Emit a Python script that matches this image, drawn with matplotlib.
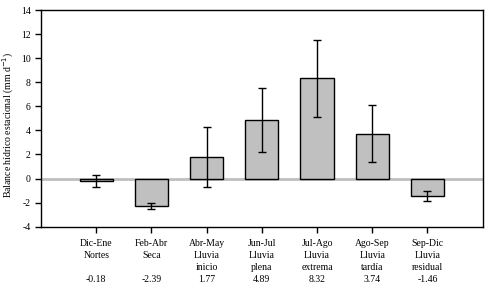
import matplotlib
matplotlib.use("Agg")
import matplotlib.pyplot as plt

# Seasonal water balance data
seasons = ["Dic-Ene\nNortes", "Feb-Abr\nSeca", "Abr-May\nLluvia\ninicio",
           "Jun-Jul\nLluvia\nplena", "Jul-Ago\nLluvia\nextrema",
           "Ago-Sep\nLluvia\ntardía", "Sep-Dic\nLluvia\nresidual"]
balance = [-0.18, -2.29, 1.78, 4.89, 8.32, 3.74, -1.46]
errors = [0.5, 0.25, 2.5, 2.67, 3.2, 2.37, 0.42]
value_labels = ["-0.18", "-2.39", "1.77", "4.89", "8.32", "3.74", "-1.46"]

plt.rcParams["font.family"] = ["Liberation Serif", "DejaVu Serif"]
plt.rcParams["axes.unicode_minus"] = False

fig = plt.figure(figsize=(5.04, 2.97), dpi=100)
ax = fig.add_axes([41 / 504, 1 - 226.7 / 297, 441.7 / 504, 216.7 / 297])

x = list(range(1, len(seasons) + 1))
ax.axhline(0, color="#bfbfbf", linewidth=2, zorder=1)
ax.bar(x, balance, width=0.6, color="#c0c0c0", edgecolor="black",
       linewidth=1, zorder=2)
ax.errorbar(x, balance, yerr=errors, fmt="none", ecolor="black",
            elinewidth=1, capsize=3, capthick=1, zorder=3)

ax.set_xlim(0, 8)
ax.set_ylim(-4, 14)
ax.set_yticks(range(-4, 15, 2))
ax.set_xticks(x)
ax.set_xticklabels(seasons, fontsize=7, linespacing=1.45, va="top")
ax.tick_params(axis="x", direction="out", length=4, pad=5, width=1)
ax.tick_params(axis="y", direction="out", length=4, labelsize=7, width=1)
for s in ax.spines.values():
    s.set_linewidth(1)

# values under the category labels
for xi, lab in zip(x, value_labels):
    ax.annotate(lab, xy=(xi, 0), xycoords=("data", "axes fraction"),
                xytext=(0, -38), textcoords="offset points",
                ha="center", va="center", fontsize=7)

fig.text(8 / 504, 1 - 125 / 297, "Balance hídrico estacional (mm d$^{-1}$)",
         rotation=90, ha="center", va="center", fontsize=7)

fig.savefig("out.png", dpi=100)
